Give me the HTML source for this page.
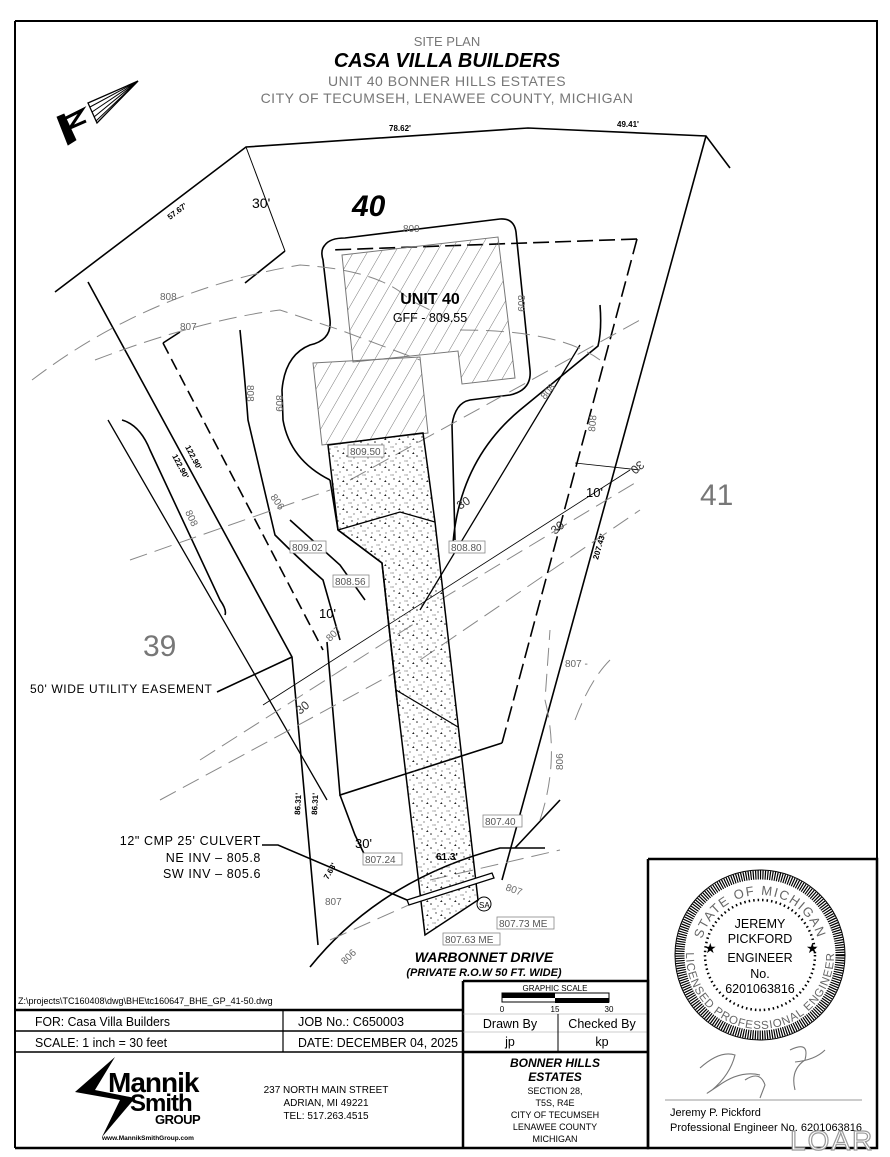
<!DOCTYPE html>
<html><head><meta charset="utf-8"><style>
html,body{margin:0;padding:0;background:#fff;}
svg{display:block;}
text{font-family:"Liberation Sans",sans-serif;}
.n{font-family:"Liberation Sans Narrow","Liberation Sans",sans-serif;}
.g{fill:#777;}
.lb{font-size:10px;fill:#666;}
</style></head><body>
<svg width="890" height="1157" viewBox="0 0 890 1157" xmlns="http://www.w3.org/2000/svg">
<defs>
<pattern id="hatch" width="12" height="12" patternUnits="userSpaceOnUse" patternTransform="rotate(30)">
<line x1="0" y1="0" x2="0" y2="12" stroke="#555" stroke-width="0.8"/></pattern>
<pattern id="stip" width="14" height="14" patternUnits="userSpaceOnUse">
<circle cx="2" cy="3" r="0.7" fill="#333"/><circle cx="8" cy="1" r="0.6" fill="#444"/><circle cx="11" cy="8" r="0.8" fill="#222"/><circle cx="4" cy="10" r="0.6" fill="#444"/><path d="M6 6 l1.5 -2 l1 2z" fill="#222"/><circle cx="13" cy="13" r="0.5" fill="#333"/><circle cx="1" cy="13" r="0.6" fill="#555"/></pattern>
</defs>
<rect width="890" height="1157" fill="#fff"/>
<path d="M15 21 H877 V859" fill="none" stroke="#000" stroke-width="2"/>
<line x1="15" y1="21" x2="15" y2="1148" stroke="#000" stroke-width="2"/>

<text x="447" y="46" text-anchor="middle" font-size="13" class="g">SITE PLAN</text>
<text x="447" y="67" text-anchor="middle" font-size="20" font-weight="bold" font-style="italic">CASA VILLA BUILDERS</text>
<text x="447" y="86" text-anchor="middle" font-size="14" class="g" letter-spacing="0.5">UNIT 40 BONNER HILLS ESTATES</text>
<text x="447" y="103" text-anchor="middle" font-size="14" class="g" letter-spacing="0.5">CITY OF TECUMSEH, LENAWEE COUNTY, MICHIGAN</text>

<!-- north arrow -->
<g stroke="#000" fill="none" stroke-width="1.3">
<path d="M138 81 L88 103 L97 123 Z" fill="#fff"/>
<path d="M138 81 L90 107 M138 81 L92 112 M138 81 L94 117 M138 81 L96 121" stroke-width="1"/>
<path d="M57 117 L64 114 L76 140 L68 145 Z" fill="#000" stroke-width="0.8"/>
<path d="M66 118 L82 110 L70 128 L86 121" stroke-width="3"/>
</g>

<g stroke="#000" fill="none" stroke-width="1.6">
<path d="M55 292 L246 147 L528 128 L706 136 L730 168"/>
<path d="M706 136 L502 880"/>
<path d="M88 282 L292 657 L318 945"/>
<path d="M108 420 L327 800" stroke-width="1.3"/>
<path d="M246 147 L285 251" stroke-width="1"/>
<path d="M285 251 L245 283"/>
<path d="M163 343 L180 332"/>
<path d="M163 343 L323 650" stroke-dasharray="12,6"/>
<path d="M327 642 L340 795 L502 743"/>
<path d="M502 743 L637 239" stroke-dasharray="16,6"/>
<path d="M637 239 L330 250" stroke-dasharray="16,6"/>
<path d="M325 245 Q330 238 345 238 L500 219 Q514 218 516 232 L530 370 Q532 390 510 395 L470 400 Q455 403 452 425 L455 540"/>
<path d="M325 245 Q320 250 323 260 L330 320 Q332 340 310 345 Q285 355 282 390 L283 420 Q290 460 330 480"/>
<path d="M453 543 Q460 460 520 410 L598 346 Q602 330 600 305"/>
<path d="M338 530 L382 563 L397 700"/>
<path d="M330 480 L338 530"/>
<path d="M240 330 Q245 380 248 420 L275 535 Q300 560 323 580 L340 640"/>
<path d="M122 420 Q140 425 150 450 L220 600 Q227 610 225 615"/>
<path d="M290 520 L340 565 L365 600"/>
<path d="M310 967 Q380 880 500 848 L545 848"/>
<path d="M420 610 L580 345" stroke-width="1.3" fill="none"/>
<path d="M217 692 L292 657"/>
<path d="M262 845 L278 845 L407 900"/>
<path d="M340 795 L355 835 L368 862"/>
<path d="M515 848 L560 800"/>
</g>
<g stroke="#000" fill="none" stroke-width="0.8">
<line x1="263" y1="705" x2="630" y2="470"/>
<line x1="575" y1="463" x2="640" y2="470"/>
</g>
<g stroke="#888" fill="none" stroke-width="1" stroke-dasharray="18,8">
<path d="M32 380 Q150 290 300 265 Q380 270 410 300 L450 320"/>
<path d="M95 360 Q200 320 280 310 L340 330 L420 360"/>
<path d="M460 330 Q560 330 600 360"/>
<path d="M130 560 L330 490 M350 480 L640 320"/>
<path d="M200 760 L420 620 M440 600 L640 480"/>
<path d="M160 800 L400 670 M420 660 L640 510"/>
<path d="M330 940 L420 900 M430 880 L560 850"/>
<path d="M540 820 Q560 760 545 700 L550 630"/>
<path d="M575 720 Q590 680 610 660"/>
</g>
<path d="M342 255 L498 237 L515 378 L462 384 L458 351 L353 362 Z" fill="url(#hatch)" stroke="#777" stroke-width="1"/>
<path d="M313 363 L420 357 L428 433 L322 445 Z" fill="url(#hatch)" stroke="#777" stroke-width="1"/>
<path d="M328 445 L423 433 L435 522 L478 900 L425 935 L397 700 L382 563 L338 530 Z" fill="url(#stip)" stroke="#000" stroke-width="1.5"/>
<path d="M338 530 L400 512 L435 522" stroke="#000" stroke-width="1.3" fill="none"/>
<path d="M396 690 L458 727" stroke="#000" stroke-width="1.3" fill="none"/>
<path d="M407 900 L492 873 L494 878 L409 905 Z" fill="#fff" stroke="#000" stroke-width="1.3"/>
<circle cx="484" cy="904" r="7" fill="none" stroke="#000"/>
<text x="479" y="908" font-size="8">SA</text>

<text x="400" y="131" font-size="8" font-weight="bold" text-anchor="middle">78.62'</text>
<text x="628" y="127" font-size="8" font-weight="bold" text-anchor="middle">49.41'</text>
<text x="170" y="220" font-size="8" font-weight="bold" transform="rotate(-37 170 220)">57.67'</text>
<text x="252" y="208" font-size="14">30'</text>
<text x="352" y="216" font-size="30" font-weight="bold" font-style="italic">40</text>
<text x="430" y="304" font-size="16" font-weight="bold" text-anchor="middle">UNIT 40</text>
<text x="430" y="322" font-size="12.5" text-anchor="middle">GFF - 809.55</text>
<text x="700" y="505" font-size="30" class="g">41</text>
<text x="143" y="656" font-size="30" class="g">39</text>
<text x="30" y="693" font-size="12" letter-spacing="0.6">50' WIDE UTILITY EASEMENT</text>
<text x="261" y="845" font-size="12.5" text-anchor="end" letter-spacing="0.6">12" CMP 25' CULVERT</text>
<text x="261" y="862" font-size="12.5" text-anchor="end" letter-spacing="0.6">NE INV – 805.8</text>
<text x="261" y="878" font-size="12.5" text-anchor="end" letter-spacing="0.6">SW INV – 805.6</text>
<text x="484" y="962" font-size="14" font-weight="bold" font-style="italic" text-anchor="middle">WARBONNET DRIVE</text>
<text x="484" y="976" font-size="11" font-weight="bold" font-style="italic" text-anchor="middle">(PRIVATE R.O.W 50 FT. WIDE)</text>
<text x="319" y="618" font-size="13">10'</text>
<text x="586" y="497" font-size="13">10'</text>
<text x="355" y="848" font-size="13">30'</text>
<text x="436" y="860" font-size="10" font-weight="bold">61.3'</text>
<text x="300" y="815" font-size="8" font-weight="bold" transform="rotate(-87 300 815)">86.31'</text>
<text x="317" y="815" font-size="8" font-weight="bold" transform="rotate(-87 317 815)">86.31'</text>
<text x="185" y="447" font-size="8" font-weight="bold" transform="rotate(62 185 447)">122.90'</text>
<text x="172" y="456" font-size="8" font-weight="bold" transform="rotate(62 172 456)">122.90'</text>
<text x="598" y="560" font-size="8" font-weight="bold" transform="rotate(-74 598 560)">207.43'</text>
<text x="328" y="880" font-size="8" font-weight="bold" transform="rotate(-60 328 880)">7.63'</text>
<g class="lb">
<text x="160" y="300">808</text><text x="180" y="330">807</text>
<text x="403" y="232">809</text>
<text x="247" y="385" transform="rotate(90 247 385)">808</text>
<text x="276" y="395" transform="rotate(90 276 395)">809</text>
<text x="518" y="295" transform="rotate(90 518 295)">809</text>
<text x="545" y="400" transform="rotate(-50 545 400)">808</text>
<text x="595" y="432" transform="rotate(-85 595 432)">808</text>
<text x="270" y="497" transform="rotate(55 270 497)">806</text>
<text x="185" y="512" transform="rotate(65 185 512)">808</text>
<text x="330" y="642" transform="rotate(-45 330 642)">807</text>
<text x="565" y="667">807 -</text>
<text x="563" y="770" transform="rotate(-90 563 770)">806</text>
<text x="325" y="905">807</text>
<text x="505" y="890" transform="rotate(20 505 890)">807</text>
<text x="345" y="965" transform="rotate(-45 345 965)">806</text>
<text x="460" y="510" font-size="12" fill="#333" transform="rotate(-33 460 510)">30</text>
<text x="300" y="715" font-size="12" fill="#333" transform="rotate(-40 300 715)">30</text>
<text x="555" y="535" font-size="12" fill="#333" transform="rotate(-40 555 535)">30</text>
<text x="640" y="460" font-size="12" fill="#333" transform="rotate(140 640 460)">30</text>
</g>
<g font-size="10" fill="#555" stroke="#888" stroke-width="0.8">
<rect x="348" y="445" width="36" height="12" fill="#fff"/><text x="350" y="455" stroke="none">809.50</text>
<rect x="290" y="541" width="36" height="12" fill="#fff"/><text x="292" y="551" stroke="none">809.02</text>
<rect x="333" y="575" width="36" height="12" fill="#fff"/><text x="335" y="585" stroke="none">808.56</text>
<rect x="449" y="541" width="36" height="12" fill="#fff"/><text x="451" y="551" stroke="none">808.80</text>
<rect x="483" y="815" width="39" height="12" fill="#fff"/><text x="485" y="825" stroke="none">807.40</text>
<rect x="363" y="853" width="39" height="12" fill="#fff"/><text x="365" y="863" stroke="none">807.24</text>
<rect x="497" y="917" width="57" height="12" fill="#fff"/><text x="499" y="927" stroke="none">807.73 ME</text>
<rect x="443" y="933" width="57" height="12" fill="#fff"/><text x="445" y="943" stroke="none">807.63 ME</text>
</g>

<text x="18" y="1004" font-size="9" class="n">Z:\projects\TC160408\dwg\BHE\tc160647_BHE_GP_41-50.dwg</text>
<g stroke="#000" fill="none">
<path d="M15 1010 H463" stroke-width="2.5"/>
<path d="M463 981 H648 V1148 H15" stroke-width="2.5"/>
<path d="M463 981 V1148" stroke-width="2.5"/>
<path d="M15 1031 H463 M15 1052 H463" stroke-width="1.5"/>
<path d="M283 1010 V1052" stroke-width="1.2"/>
<path d="M463 1052 H648" stroke-width="2.5"/>
<path d="M463 1014 H648 M463 1032 H648" stroke-width="0.6" stroke="#999"/>
<path d="M558 1014 V1052" stroke-width="1"/>
<path d="M648 859 H877 V1148 H648 V859" stroke-width="2.5"/>
<rect x="502" y="993" width="107" height="9" stroke-width="1"/>
</g>
<rect x="502" y="993" width="53" height="5" fill="#000"/>
<rect x="555" y="998" width="54" height="5" fill="#000"/>
<text x="555" y="991" font-size="8" text-anchor="middle" class="n">GRAPHIC SCALE</text>
<text x="502" y="1012" font-size="8" text-anchor="middle">0</text>
<text x="555" y="1012" font-size="8" text-anchor="middle">15</text>
<text x="609" y="1012" font-size="8" text-anchor="middle">30</text>
<g font-size="12.5" class="n">
<text x="35" y="1026" textLength="135" lengthAdjust="spacingAndGlyphs">FOR:  Casa Villa Builders</text>
<text x="35" y="1047" textLength="132" lengthAdjust="spacingAndGlyphs">SCALE:  1 inch = 30 feet</text>
<text x="298" y="1026" textLength="106" lengthAdjust="spacingAndGlyphs">JOB No.:  C650003</text>
<text x="298" y="1047" textLength="160" lengthAdjust="spacingAndGlyphs">DATE:  DECEMBER 04, 2025</text>
<text x="510" y="1028" text-anchor="middle">Drawn By</text>
<text x="602" y="1028" text-anchor="middle">Checked By</text>
<text x="510" y="1046" text-anchor="middle">jp</text>
<text x="602" y="1046" text-anchor="middle">kp</text>
</g>
<path d="M115 1057 L75 1092 L120 1100 L102 1137 L135 1098 L95 1090 Z" fill="#000"/>
<text x="108" y="1092" font-size="28" font-weight="bold" letter-spacing="-1">Mannik</text>
<text x="130" y="1111" font-size="24" font-weight="bold" letter-spacing="-1">Smith</text>
<text x="155" y="1124" font-size="13" font-weight="bold" letter-spacing="-0.5">GROUP</text>
<text x="102" y="1140" font-size="6.5" font-weight="bold">www.MannikSmithGroup.com</text>
<g font-size="10" class="n" text-anchor="middle">
<text x="326" y="1093">237 NORTH MAIN STREET</text>
<text x="326" y="1106">ADRIAN, MI 49221</text>
<text x="326" y="1119">TEL:  517.263.4515</text>
</g>
<g text-anchor="middle" class="n">
<text x="555" y="1067" font-size="12" font-weight="bold" font-style="italic">BONNER HILLS</text>
<text x="555" y="1081" font-size="12" font-weight="bold" font-style="italic">ESTATES</text>
<text x="555" y="1094" font-size="9">SECTION 28,</text>
<text x="555" y="1106" font-size="9">T5S, R4E</text>
<text x="555" y="1118" font-size="9">CITY OF TECUMSEH</text>
<text x="555" y="1130" font-size="9">LENAWEE COUNTY</text>
<text x="555" y="1142" font-size="9">MICHIGAN</text>
</g>
<!-- seal -->
<circle cx="760" cy="955" r="80" fill="none" stroke="#000" stroke-width="9" stroke-dasharray="1.2,1.2"/>
<circle cx="760" cy="955" r="85" fill="none" stroke="#000" stroke-width="1"/>
<circle cx="760" cy="955" r="55" fill="none" stroke="#000" stroke-width="2.5" stroke-dasharray="1.5,3"/>
<path id="arcT" d="M700 955 A60 60 0 0 1 820 955" fill="none"/>
<path id="arcB" d="M686 955 A74 74 0 0 0 834 955" fill="none"/>
<text font-size="13" fill="#666" letter-spacing="1.5"><textPath href="#arcT" startOffset="50%" text-anchor="middle">STATE OF MICHIGAN</textPath></text>
<text font-size="11.5" fill="#666" letter-spacing="0.8"><textPath href="#arcB" startOffset="50%" text-anchor="middle">LICENSED PROFESSIONAL ENGINEER</textPath></text>
<text x="704" y="953" font-size="14">★</text><text x="806" y="953" font-size="14">★</text>
<g font-size="12.5" text-anchor="middle">
<text x="760" y="928">JEREMY</text>
<text x="760" y="943">PICKFORD</text>
<text x="760" y="962">ENGINEER</text>
<text x="760" y="978">No.</text>
<text x="760" y="993">6201063816</text>
</g>
<path d="M700 1068 Q720 1050 735 1055 Q730 1075 712 1090 Q700 1098 718 1086 Q740 1070 760 1075 M745 1080 Q760 1070 765 1085 L760 1098 M790 1050 Q810 1040 805 1060 Q790 1070 795 1090 M795 1062 Q815 1060 825 1050" fill="none" stroke="#777" stroke-width="1.1"/>
<line x1="665" y1="1100" x2="862" y2="1100" stroke="#999"/>
<text x="670" y="1116" font-size="11" class="n">Jeremy P. Pickford</text>
<text x="670" y="1131" font-size="11" class="n">Professional Engineer No. 6201063816</text>
<text x="790" y="1150" font-size="28" fill="#fff" stroke="#999" stroke-width="1.2" letter-spacing="2">LOAR</text>
</svg>
</body></html>
